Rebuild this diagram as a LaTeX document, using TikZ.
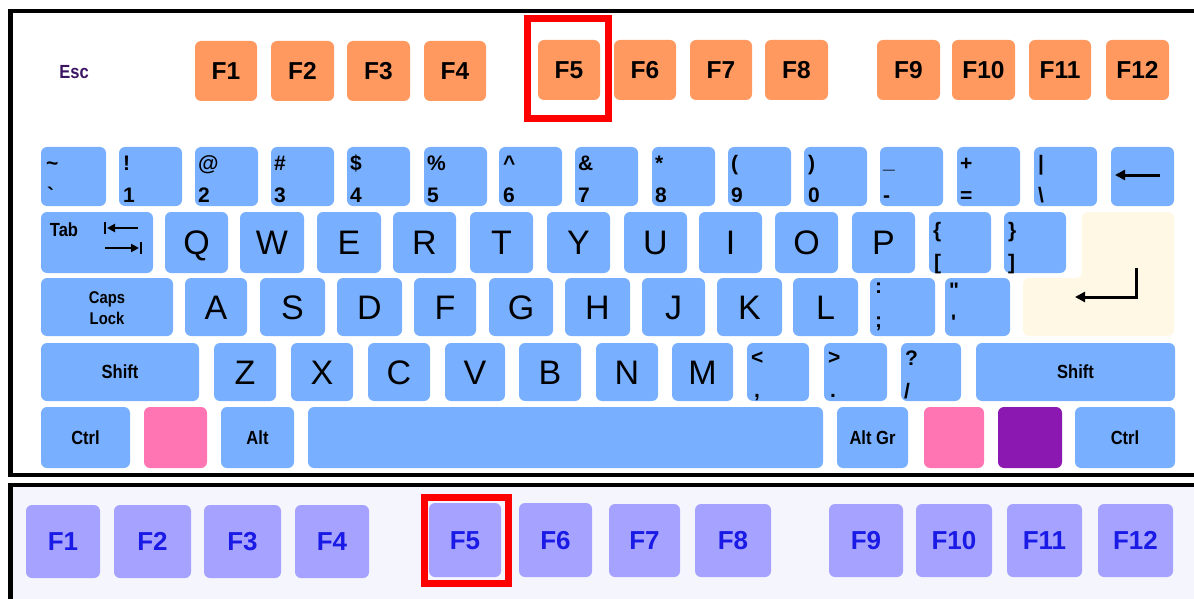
\documentclass[tikz,border=0pt]{standalone}
\usepackage{fontspec}
\setmainfont{Liberation Sans}
\newfontfamily\kf{Liberation Sans}
\newfontfamily\nar[FakeStretch=0.87]{Liberation Sans}
\usetikzlibrary{arrows.meta}
\definecolor{kblue}{HTML}{78B0FF}
\definecolor{korange}{HTML}{FF9960}
\definecolor{kpink}{HTML}{FF74B2}
\definecolor{kpurple}{HTML}{8B18B0}
\definecolor{kcream}{HTML}{FFF8E4}
\definecolor{klav}{HTML}{A6A2FF}
\definecolor{botbg}{HTML}{F5F5FE}
\definecolor{btext}{HTML}{1A1AE6}
\definecolor{escpurple}{HTML}{3C1464}
\tikzset{
  keyshape/.style={rounded corners=6pt, inner sep=0pt, outer sep=0pt},
  bluekey/.style={keyshape, fill=kblue},
  letterkey/.style={bluekey, font={\kf\fontsize{34}{34}\selectfont}, text height=24.3pt, text depth=0pt},
  smallkey/.style={bluekey, font={\nar\bfseries\fontsize{19}{19}\selectfont}, align=center},
  fkey/.style={keyshape, fill=korange, font={\kf\bfseries\fontsize{24.5}{24.5}\selectfont}, text height=17.5pt, text depth=0pt},
  bfkey/.style={keyshape, fill=klav, text=btext, font={\kf\bfseries\fontsize{26}{26}\selectfont}, text height=18.6pt, text depth=0pt},
  sym/.style={anchor=base west, inner sep=0pt, font={\kf\bfseries\fontsize{21}{21}\selectfont}},
  frame/.style={line width=4.5pt, black},
  redbox/.style={line width=7pt, red, line join=miter},
  arrowline/.style={line width=3pt, -{Triangle[length=10pt,width=10pt]}},
  tabarrow/.style={line width=2.8pt, -{Triangle[length=8pt,width=8pt]}},
}
\newcommand\keyb[7]{%
  \pgfmathsetmacro\kw{(#4)-(#2)}%
  \pgfmathsetmacro\kh{(#5)-(#3)}%
  \pgfmathsetmacro\kx{((#2)+(#4))/2}%
  \pgfmathsetmacro\ky{((#3)+(#5))/2}%
  \node[#6, minimum width=\kw pt, minimum height=\kh pt] (#1) at (\kx,\ky) {#7};}
\newcommand\klab[4]{\node[sym] (#1) at (#2,#3) {#4};}
\begin{document}
\begin{tikzpicture}[x=1pt,y=-1pt]
\useasboundingbox (0,0) rectangle (1194,599);
\begin{scope}
  \clip (0,0) rectangle (1194,599);
  \fill[botbg] (10.5,485) rectangle (1200,610);
  \draw[frame] (1200,11) -- (10.5,11) -- (10.5,475) -- (1200,475);
  \draw[frame] (1200,485) -- (10.5,485) -- (10.5,610);
\end{scope}

% Esc and function keys
\node[font={\nar\bfseries\fontsize{19}{19}\selectfont}, text=escpurple, inner sep=0pt] (esc) at (74,72) {Esc};
\keyb{f1}{195}{41}{257}{101}{fkey}{F1}
\keyb{f2}{271}{41}{334}{101}{fkey}{F2}
\keyb{f3}{347}{41}{410}{101}{fkey}{F3}
\keyb{f4}{424}{41}{486}{101}{fkey}{F4}
\keyb{f5}{538}{40}{600}{100}{fkey}{F5}
\keyb{f6}{614}{40}{676}{100}{fkey}{F6}
\keyb{f7}{690}{40}{752}{100}{fkey}{F7}
\keyb{f8}{765}{40}{828}{100}{fkey}{F8}
\keyb{f9}{877}{40}{940}{100}{fkey}{F9}
\keyb{f10}{952}{40}{1015}{100}{fkey}{F10}
\keyb{f11}{1029}{40}{1091}{100}{fkey}{F11}
\keyb{f12}{1106}{40}{1169}{100}{fkey}{F12}
\draw[redbox] (527.5,18.5) rectangle (608.5,118.5);

% number row
\keyb{kgr}{41}{147}{106}{206}{bluekey}{}
\klab{kgrt}{46}{170}{\textasciitilde}\klab{kgrb}{47}{202}{`}
\keyb{k1}{119}{147}{182}{206}{bluekey}{}
\klab{k1t}{123}{170}{!}\klab{k1b}{123}{202}{1}
\keyb{k2}{195}{147}{258}{206}{bluekey}{}
\klab{k2t}{198}{170}{@}\klab{k2b}{198}{202}{2}
\keyb{k3}{271}{147}{334}{206}{bluekey}{}
\klab{k3t}{274}{170}{\#}\klab{k3b}{274}{202}{3}
\keyb{k4}{347}{147}{410}{206}{bluekey}{}
\klab{k4t}{350}{170}{\$}\klab{k4b}{350}{202}{4}
\keyb{k5}{424}{147}{487}{206}{bluekey}{}
\klab{k5t}{427}{170}{\%}\klab{k5b}{427}{202}{5}
\keyb{k6}{499}{147}{562}{206}{bluekey}{}
\klab{k6t}{503}{170}{\textasciicircum}\klab{k6b}{503}{202}{6}
\keyb{k7}{575}{147}{638}{206}{bluekey}{}
\klab{k7t}{578}{170}{\&}\klab{k7b}{578}{202}{7}
\keyb{k8}{652}{147}{715}{206}{bluekey}{}
\klab{k8t}{655}{170}{*}\klab{k8b}{655}{202}{8}
\keyb{k9}{728}{147}{791}{206}{bluekey}{}
\klab{k9t}{731}{170}{(}\klab{k9b}{731}{202}{9}
\keyb{k0}{804}{147}{867}{206}{bluekey}{}
\klab{k0t}{808}{170}{)}\klab{k0b}{808}{202}{0}
\keyb{kmin}{880}{147}{943}{206}{bluekey}{}
\klab{kmint}{883}{168}{\_}\klab{kminb}{883}{202}{-}
\keyb{keq}{957}{147}{1020}{206}{bluekey}{}
\klab{keqt}{960}{170}{+}\klab{keqb}{960}{202}{=}
\keyb{kbs}{1034}{147}{1097}{206}{bluekey}{}
\klab{kbst}{1038}{170}{|}\klab{kbsb}{1038}{202}{\textbackslash}
\keyb{kback}{1111}{147}{1174}{206}{bluekey}{}
\coordinate (bkA) at (1160,175);
\coordinate (bkB) at (1115,175);
\draw[arrowline] (bkA) -- (bkB);

% qwerty row
\keyb{ktab}{41}{212}{153}{273}{bluekey}{}
\node[font={\nar\bfseries\fontsize{19}{19}\selectfont}, inner sep=0pt] (tabl) at (64,230) {Tab};
\coordinate (tA1) at (138,228); \coordinate (tA2) at (107,228);
\coordinate (tB1) at (105,222); \coordinate (tB2) at (105,234);
\coordinate (tC1) at (105,248); \coordinate (tC2) at (139,248);
\coordinate (tD1) at (141,242); \coordinate (tD2) at (141,254);
\draw[tabarrow] (tA1) -- (tA2);
\draw[line width=2.8pt] (tB1) -- (tB2);
\draw[tabarrow] (tC1) -- (tC2);
\draw[line width=2.8pt] (tD1) -- (tD2);
\keyb{kq}{165}{212}{228}{273}{letterkey}{Q}
\keyb{kw}{240}{212}{304}{273}{letterkey}{W}
\keyb{ke}{317}{212}{381}{273}{letterkey}{E}
\keyb{kr}{393}{212}{456}{273}{letterkey}{R}
\keyb{kt}{470}{212}{533}{273}{letterkey}{T}
\keyb{ky}{547}{212}{610}{273}{letterkey}{Y}
\keyb{ku}{624}{212}{687}{273}{letterkey}{U}
\keyb{ki}{699}{212}{762}{273}{letterkey}{I}
\keyb{ko}{775}{212}{838}{273}{letterkey}{O}
\keyb{kp}{852}{212}{915}{273}{letterkey}{P}
\keyb{klb}{929}{212}{991}{273}{bluekey}{}
\klab{klbt}{933}{237}{\{}\klab{klbb}{934}{269}{[}
\keyb{krb}{1004}{212}{1066}{273}{bluekey}{}
\klab{krbt}{1008}{237}{\}}\klab{krbb}{1008}{269}{]}

% enter
\fill[kcream, rounded corners=6pt] (1082,212) -- (1174,212) -- (1174,336) -- (1023,336) -- (1023,278) -- (1082,278) -- cycle;
\coordinate (enA) at (1136,268);
\coordinate (enB) at (1136,297);
\coordinate (enC) at (1075,297);
\draw[arrowline] (enA) -- (enB) -- (enC);

% caps row
\keyb{kcaps}{41}{278}{173}{336}{bluekey}{}
\node[font={\nar\bfseries\fontsize{17}{17}\selectfont}, inner sep=0pt] (capsA) at (107,299) {Caps};
\node[font={\nar\bfseries\fontsize{17}{17}\selectfont}, inner sep=0pt] (capsB) at (107,318) {Lock};
\keyb{ka}{185}{278}{247}{336}{letterkey}{A}
\keyb{ks}{260}{278}{325}{336}{letterkey}{S}
\keyb{kd}{337}{278}{402}{336}{letterkey}{D}
\keyb{kf}{414}{278}{476}{336}{letterkey}{F}
\keyb{kg}{489}{278}{553}{336}{letterkey}{G}
\keyb{kh}{565}{278}{630}{336}{letterkey}{H}
\keyb{kj}{642}{278}{705}{336}{letterkey}{J}
\keyb{kk}{717}{278}{782}{336}{letterkey}{K}
\keyb{kl}{793}{278}{858}{336}{letterkey}{L}
\keyb{ksc}{870}{278}{935}{336}{bluekey}{}
\klab{ksct}{875}{293}{:}\klab{kscb}{875}{327}{;}
\keyb{kqu}{945}{278}{1010}{336}{bluekey}{}
\klab{kqut}{949}{297}{"}\klab{kqub}{951}{329}{'}

% shift row
\keyb{klsh}{41}{343}{199}{401}{smallkey}{Shift}
\keyb{kz}{214}{343}{276}{401}{letterkey}{Z}
\keyb{kx}{291}{343}{353}{401}{letterkey}{X}
\keyb{kc}{368}{343}{430}{401}{letterkey}{C}
\keyb{kv}{445}{343}{505}{401}{letterkey}{V}
\keyb{kb}{519}{343}{581}{401}{letterkey}{B}
\keyb{kn}{596}{343}{658}{401}{letterkey}{N}
\keyb{km}{672}{343}{733}{401}{letterkey}{M}
\keyb{klt}{747}{343}{809}{401}{bluekey}{}
\klab{kltt}{751}{364}{<}\klab{kltb}{754}{397}{,}
\keyb{kgt}{824}{343}{887}{401}{bluekey}{}
\klab{kgtt}{828}{364}{>}\klab{kgtb}{830}{397}{.}
\keyb{kqm}{901}{343}{961}{401}{bluekey}{}
\klab{kqmt}{905}{365}{?}\klab{kqmb}{904}{398}{/}
\keyb{krsh}{976}{343}{1175}{401}{smallkey}{Shift}

% bottom row
\keyb{klct}{41}{407}{130}{468}{smallkey}{Ctrl}
\keyb{klwin}{144}{407}{207}{468}{keyshape, fill=kpink}{}
\keyb{kalt}{221}{407}{294}{468}{smallkey}{Alt}
\keyb{kspace}{308}{407}{823}{468}{bluekey}{}
\keyb{kaltgr}{837}{407}{908}{468}{smallkey}{Alt Gr}
\keyb{krwin}{924}{407}{984}{468}{keyshape, fill=kpink}{}
\keyb{kmenu}{998}{407}{1062}{468}{keyshape, fill=kpurple}{}
\keyb{krct}{1075}{407}{1175}{468}{smallkey}{Ctrl}

% bottom strip
\keyb{b1}{26}{505}{100}{578}{bfkey}{F1}
\keyb{b2}{114}{505}{191}{578}{bfkey}{F2}
\keyb{b3}{204}{505}{281}{578}{bfkey}{F3}
\keyb{b4}{295}{505}{369}{578}{bfkey}{F4}
\keyb{b5}{429}{503}{501}{577}{bfkey}{F5}
\keyb{b6}{519}{503}{592}{577}{bfkey}{F6}
\keyb{b7}{609}{504}{680}{577}{bfkey}{F7}
\keyb{b8}{695}{504}{771}{577}{bfkey}{F8}
\keyb{b9}{829}{504}{903}{577}{bfkey}{F9}
\keyb{b10}{916}{504}{992}{577}{bfkey}{F10}
\keyb{b11}{1007}{504}{1082}{577}{bfkey}{F11}
\keyb{b12}{1098}{504}{1173}{577}{bfkey}{F12}
\draw[redbox] (424.5,497.5) rectangle (508.5,583.5);
\end{tikzpicture}
\end{document}
